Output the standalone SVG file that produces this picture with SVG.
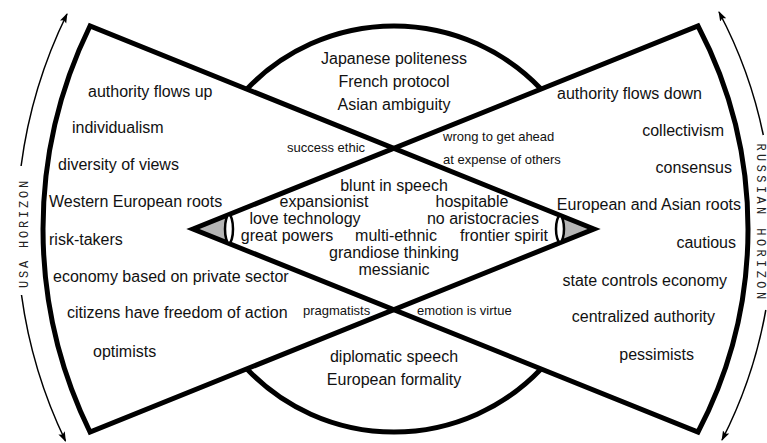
<svg xmlns="http://www.w3.org/2000/svg" width="767" height="443" viewBox="0 0 767 443">
<style>
.t{font-family:"Liberation Sans",Arial,sans-serif;font-size:16px;fill:#111}
.s{font-family:"Liberation Sans",Arial,sans-serif;font-size:13px;fill:#111}
.m{text-anchor:middle}
.e{text-anchor:end}
.hz{font-family:"Liberation Mono","Courier New",monospace;font-size:12px;fill:#222;text-anchor:middle}
.thick{fill:none;stroke:#000;stroke-width:5;stroke-linejoin:miter}
.arr{fill:none;stroke:#000;stroke-width:1.5}
.lens{fill:#fff;stroke:#000;stroke-width:2.5}
.gray{fill:#b5b5b5}
</style>
<defs>
<marker id="ah" markerWidth="10" markerHeight="8" refX="9" refY="4" orient="auto" markerUnits="userSpaceOnUse">
<path d="M0,0.5 L10,4 L0,7.5 L2,4 Z" fill="#000"/>
</marker>
</defs>
<g id="connectors">
<path class="arr" d="M21.1,166 A488,488 0 0,1 67,14" marker-end="url(#ah)"/>
<path class="arr" d="M21.5,295 A488,488 0 0,0 65.5,441" marker-end="url(#ah)"/>
<path class="arr" d="M763.3,135 A462,462 0 0,0 719,12" marker-end="url(#ah)"/>
<path class="arr" d="M765.8,310 A462,462 0 0,1 722,440" marker-end="url(#ah)"/>
</g>
<g id="eyes-fill">
<polygon class="gray" points="193,229 226,215.7 226,242.2"/>
<polygon class="gray" points="594,229 563,216.5 563,241.5"/>
</g>
<g id="usa-fan">
<path class="thick" d="M594,229 L90,26 A462,462 0 0,0 90,432 Z"/>
</g>
<g id="russia-fan">
<path class="thick" d="M193,229 L698,26 A437,437 0 0,1 698,432 Z"/>
</g>
<g id="circle">
<path class="thick" d="M247,89 A203,203 0 0,1 541,89"/>
<path class="thick" d="M247,369 A203,203 0 0,0 541,369"/>
</g>
<g id="eyes">
<ellipse class="lens" cx="229" cy="229" rx="4" ry="14"/>
<ellipse class="lens" cx="560" cy="229" rx="4" ry="13"/>
</g>
<g id="usa-horizon">
<text class="hz" letter-spacing="2.8" transform="translate(27.5,233) rotate(-90)">USA HORIZON</text>
</g>
<g id="russian-horizon">
<text class="hz" letter-spacing="3.4" transform="translate(756.5,223) rotate(90)">RUSSIAN HORIZON</text>
</g>
<g id="usa-traits">
<text class="t" x="88" y="97">authority flows up</text>
<text class="t" x="72" y="133">individualism</text>
<text class="t" x="58" y="170">diversity of views</text>
<text class="t" x="49" y="207">Western European roots</text>
<text class="t" x="49" y="245">risk-takers</text>
<text class="t" x="53" y="282">economy based on private sector</text>
<text class="t" x="67" y="318">citizens have freedom of action</text>
<text class="t" x="93" y="357">optimists</text>
</g>
<g id="russia-traits">
<text class="t e" x="702" y="99">authority flows down</text>
<text class="t e" x="724" y="136">collectivism</text>
<text class="t e" x="732" y="173">consensus</text>
<text class="t e" x="741" y="210">European and Asian roots</text>
<text class="t e" x="736" y="248">cautious</text>
<text class="t e" x="727" y="286">state controls economy</text>
<text class="t e" x="715" y="322">centralized authority</text>
<text class="t e" x="694" y="360">pessimists</text>
</g>
<g id="top-circle">
<text class="t m" x="394" y="64">Japanese politeness</text>
<text class="t m" x="394" y="87">French protocol</text>
<text class="t m" x="394" y="110">Asian ambiguity</text>
</g>
<g id="bottom-circle">
<text class="t m" x="394" y="362">diplomatic speech</text>
<text class="t m" x="394" y="385">European formality</text>
</g>
<g id="crossing-labels">
<text class="s" x="287" y="152">success ethic</text>
<text class="s" x="443" y="141">wrong to get ahead</text>
<text class="s" x="443" y="164">at expense of others</text>
<text class="s" x="303" y="315">pragmatists</text>
<text class="s" x="417" y="315">emotion is virtue</text>
</g>
<g id="shared-traits">
<text class="t m" x="394" y="191">blunt in speech</text>
<text class="t m" x="324" y="207">expansionist</text>
<text class="t m" x="472" y="207">hospitable</text>
<text class="t m" x="305" y="224">love technology</text>
<text class="t m" x="483" y="224">no aristocracies</text>
<text class="t m" x="287" y="241">great powers</text>
<text class="t m" x="396" y="241">multi-ethnic</text>
<text class="t" x="460" y="241">frontier spirit</text>
<text class="t m" x="394" y="258">grandiose thinking</text>
<text class="t m" x="394" y="275">messianic</text>
</g>
</svg>
